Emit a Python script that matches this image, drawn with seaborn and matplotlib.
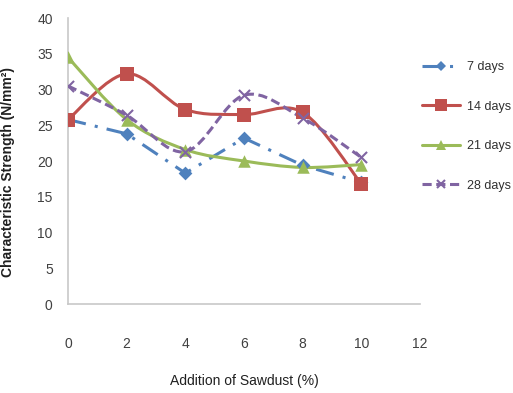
import matplotlib
matplotlib.use("Agg")
import matplotlib.pyplot as plt
from matplotlib.path import Path
from matplotlib.patches import PathPatch
from matplotlib.lines import Line2D
import seaborn as sns
import pandas as pd
import numpy as np

sawdust = [0, 2, 4, 6, 8, 10]
days7 = [25.8, 23.8, 18.3, 23.2, 19.4, 17.0]
days14 = [25.8, 32.2, 27.2, 26.5, 26.8, 16.8]
days21 = [34.5, 25.8, 21.6, 20.0, 19.1, 19.5]
days28 = [30.5, 26.4, 21.3, 29.2, 26.0, 20.5]
series_names = ["7 days", "14 days", "21 days", "28 days"]
x_ticks = [0, 2, 4, 6, 8, 10, 12]
y_ticks = [0, 5, 10, 15, 20, 25, 30, 35, 40]

sns.set_style("white")
plt.rcParams['font.family'] = ['Liberation Sans', 'DejaVu Sans']

fig = plt.figure(figsize=(5.13, 3.93), dpi=100)
ax = fig.add_axes([68/513, 1 - 304/393, (420-68)/513, (304-18)/393])

colors = ["#4F81BD", "#C0504D", "#9BBB59", "#8064A2"]
markers = ["D", "s", "^", "x"]
msizes = [7, 10, 9, 8]
data = [days7, days14, days21, days28]


def smooth_path(xs, ys):
    pts = np.column_stack([xs, ys]).astype(float)
    n = len(pts)
    verts = [pts[0]]
    codes = [Path.MOVETO]
    for i in range(n - 1):
        p0 = pts[i - 1] if i > 0 else pts[i]
        p1 = pts[i]
        p2 = pts[i + 1]
        p3 = pts[i + 2] if i + 2 < n else pts[i + 1]
        c1 = p1 + (p2 - p0) / 6.0
        c2 = p2 - (p3 - p1) / 6.0
        verts += [c1, c2, p2]
        codes += [Path.CURVE4] * 3
    return Path(verts, codes)


df7 = pd.DataFrame({"x": sawdust, "y": days7})
sns.lineplot(data=df7, x="x", y="y", ax=ax, color=colors[0], lw=2.2,
             linestyle=(0, (6, 3, 1, 3)), marker=None, legend=False)

for i in [1, 2, 3]:
    ls = "-" if i < 3 else (0, (3, 1.5))
    patch = PathPatch(smooth_path(sawdust, data[i]), facecolor="none",
                      edgecolor=colors[i], lw=2.2, linestyle=ls, zorder=2)
    ax.add_patch(patch)

for i in range(4):
    df = pd.DataFrame({"x": sawdust, "y": data[i]})
    sns.scatterplot(data=df, x="x", y="y", ax=ax, color=colors[i], marker=markers[i],
                    s=msizes[i] ** 2, linewidth=1.5 if markers[i] == "x" else 0,
                    edgecolor=colors[i] if markers[i] != "x" else None,
                    legend=False, zorder=3)

ax.set_xlim(0, 12)
ax.set_ylim(0, 40)
ax.set_xticks(x_ticks)
ax.set_yticks(y_ticks)
ax.tick_params(axis="x", labelsize=10, colors="#404040", length=0, pad=24)
ax.tick_params(axis="y", labelsize=10, colors="#404040", length=0, pad=11)
for s in ["top", "right"]:
    ax.spines[s].set_visible(False)
for s in ["left", "bottom"]:
    ax.spines[s].set_color("#C8C8C8")
    ax.spines[s].set_linewidth(1.2)

ax.set_xlabel("Addition of Sawdust (%)", fontsize=10, color="#202020", labelpad=16)
ax.set_ylabel("Characteristic Strength (N/mm²)", fontsize=10, fontweight="bold",
              color="#202020")
ax.yaxis.set_label_coords(-53/352, 0.46)

handles = []
for i in range(4):
    if i == 0:
        ls = (0, (6, 3, 1, 3))
    elif i == 3:
        ls = (0, (3, 1.5))
    else:
        ls = "-"
    handles.append(Line2D([], [], color=colors[i], lw=2.2, linestyle=ls,
                          marker=markers[i], markersize=msizes[i] * 0.8,
                          markeredgewidth=1.5 if i == 3 else 0))
fig.legend(handles, series_names, loc="upper left", bbox_to_anchor=(411/513, 1 - 50/393),
           frameon=False, fontsize=9, labelspacing=2.2, handlelength=3.0,
           handletextpad=0.6, labelcolor="#303030")

fig.savefig("out.png", dpi=100)
